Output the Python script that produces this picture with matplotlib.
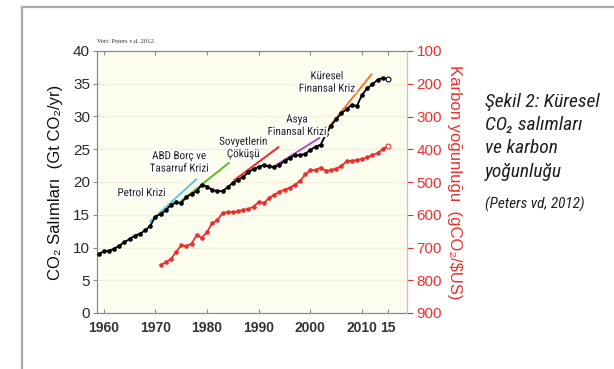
import matplotlib
matplotlib.use("Agg")
import matplotlib.pyplot as plt
import matplotlib.patheffects as pe
from matplotlib.lines import Line2D
import logging

logging.getLogger("matplotlib.font_manager").setLevel(logging.ERROR)

# Global fossil CO2 emissions (Gt CO2/yr), 1959-2014, plus 2015 projection
co2_years = list(range(1959, 2015))
co2_values = [9.0, 9.4, 9.5, 9.8, 10.3, 10.8, 11.3, 11.8, 12.1, 12.6,
              13.3, 14.7, 15.1, 15.7, 16.5, 16.9, 16.8, 17.7, 18.2, 18.6,
              19.6, 19.3, 18.8, 18.6, 18.6, 19.2, 19.9, 20.3, 20.8, 21.5,
              22.0, 22.3, 22.6, 22.4, 22.3, 22.6, 23.2, 23.7, 24.1, 24.1,
              24.3, 24.9, 25.4, 25.7, 27.3, 28.6, 29.6, 30.5, 31.1, 31.8,
              31.6, 33.3, 34.3, 34.9, 35.6, 35.9]
co2_proj_year = 2015
co2_proj_value = 35.7

# Carbon intensity (gCO2/$US), 1971-2014, plus 2015 projection
ci_years = list(range(1971, 2015))
ci_values = [753, 745, 735, 714, 693, 696, 688, 662, 671, 652,
             626, 616, 595, 592, 592, 590, 585, 583, 575, 561,
             564, 549, 539, 530, 523, 518, 508, 497, 477, 464,
             464, 456, 466, 464, 459, 451, 437, 435, 434, 430,
             425, 418, 412, 399]
ci_proj_year = 2015
ci_proj_value = 390

# Crisis trend segments
crisis_names = ["Petrol Krizi", "ABD Borç ve\nTasarruf Krizi", "Sovyetlerin\nÇöküşü",
                "Asya\nFinansal Krizi", "Küresel\nFinansal Kriz"]
crisis_colors = ["#5bc8e8", "#5cb82e", "#e8262a", "#b04fc8", "#f07a2a"]
crisis_x0 = [1969.0, 1975.0, 1985.3, 1993.0, 2003.6]
crisis_y0 = [14.0, 17.1, 20.3, 22.4, 28.4]
crisis_x1 = [1977.9, 1984.2, 1993.8, 2001.7, 2011.8]
crisis_y1 = [20.4, 22.9, 25.3, 26.7, 36.4]
crisis_label_x = [1967.3, 1974.6, 1987.0, 1997.4, 2003.2]
crisis_label_y = [18.3, 23.0, 25.2, 28.6, 35.2]

x_ticks = [1960, 1970, 1980, 1990, 2000, 2010, 2015]
x_tick_labels = ["1960", "1970", "1980", "1990", "2000", "2010", "15"]
left_ticks = [0, 5, 10, 15, 20, 25, 30, 35, 40]
right_ticks = [100, 200, 300, 400, 500, 600, 700, 800, 900]

sans = ["Liberation Sans", "DejaVu Sans"]
narrow = ["Roboto Condensed", "IBM Plex Sans Condensed", "Fira Sans Condensed",
          "Liberation Sans Narrow", "DejaVu Sans"]
plt.rcParams["font.family"] = sans
red = "#e8312f"
axis_grey = "#8a8a8a"

fig = plt.figure(figsize=(6.14, 3.69), dpi=100)
fig.patch.set_facecolor("white")

# page frame lines (top and left)
fig.add_artist(Line2D([22 / 614, 1.0], [1 - 7 / 369, 1 - 7 / 369],
                      color="#a9a9a9", lw=1.6, transform=fig.transFigure))
fig.add_artist(Line2D([22 / 614, 22 / 614], [0.0, 1 - 7 / 369],
                      color="#a9a9a9", lw=1.6, transform=fig.transFigure))

ax = fig.add_axes([97 / 614, 1 - 313 / 369, (407 - 97) / 614, (313 - 51) / 369])
ax.set_facecolor("#fcfcef")
ax.set_xlim(1958.7, 2018.7)
ax.set_ylim(0, 40)
ax.set_yticks(left_ticks)
ax.set_xticks(x_ticks)
ax.set_xticklabels(x_tick_labels)
for y in left_ticks[1:-1]:
    ax.axhline(y, color="#f0efd8", lw=0.8, zorder=0)

for side in ["left", "bottom", "top"]:
    ax.spines[side].set_color(axis_grey)
    ax.spines[side].set_linewidth(0.9)
ax.spines["right"].set_color("#eab3b3")
ax.tick_params(axis="y", labelsize=11, length=3, width=0.8,
               direction="out", pad=2, color=axis_grey, labelcolor="#2a2a2a")
ax.tick_params(axis="x", labelsize=10, length=3, width=0.8, direction="in",
               top=True, color=axis_grey, labelcolor="#333333", pad=6)
for lbl in ax.get_xticklabels():
    lbl.set_fontweight("bold")

ax.set_ylabel("CO₂ Salımları  (Gt CO₂/yr)", fontsize=12, color="#111111",
              labelpad=7)

# crisis trend lines
for x0, y0, x1, y1, c in zip(crisis_x0, crisis_y0, crisis_x1, crisis_y1, crisis_colors):
    ax.plot([x0, x1], [y0, y1], color=c, lw=1.4, zorder=3)

# emissions series
ax.plot(co2_years + [co2_proj_year], co2_values + [co2_proj_value],
        color="black", lw=1.3, zorder=4)
ax.plot(co2_years, co2_values, "o", color="black", ms=2.3, zorder=5)
ax.plot([co2_proj_year], [co2_proj_value], "o", mfc="white", mec="black",
        ms=3.5, mew=0.8, zorder=6)

halo = [pe.withStroke(linewidth=3, foreground="white")]
for name, lx, ly in zip(crisis_names, crisis_label_x, crisis_label_y):
    ax.text(lx, ly, name, ha="center", va="center", fontsize=8,
            family=narrow, color="#222222", linespacing=1.3,
            path_effects=halo, zorder=7)

ax.text(0.0, 1.025, "Veri: Peters v.d. 2012", transform=ax.transAxes,
        fontsize=4.8, family=["Liberation Serif", "DejaVu Serif"],
        color="#333333", ha="left", va="bottom")

# carbon intensity on an inverted secondary axis
ax2 = ax.twinx()
ax2.set_ylim(900, 100)
ax2.set_yticks(right_ticks)
for side in ["left", "bottom", "top"]:
    ax2.spines[side].set_visible(False)
ax2.spines["right"].set_color("#eab3b3")
ax2.tick_params(axis="y", colors=red, labelsize=11, length=4, width=0.8, pad=3)
ax2.plot(ci_years + [ci_proj_year], ci_values + [ci_proj_value],
         color=red, lw=1.3, zorder=4)
ax2.plot(ci_years, ci_values, "o", color=red, ms=2.3, zorder=5)
ax2.plot([ci_proj_year], [ci_proj_value], "o", mfc="white", mec=red,
         ms=3.5, mew=0.8, zorder=6)
ax2.set_ylabel("Karbon yoğunluğu  (gCO₂/$US)", fontsize=12, color=red,
               rotation=270, labelpad=14)

# figure caption
caption_lines = ["Şekil 2: Küresel", "CO₂ salımları", "ve karbon", "yoğunluğu"]
cap_y = [102, 125, 148, 172]
for line, yy in zip(caption_lines, cap_y):
    fig.text(485 / 614, 1 - yy / 369, line, fontsize=14, style="italic",
             family=narrow, color="#1e1e1e", ha="left", va="center")
fig.text(485 / 614, 1 - 204 / 369, "(Peters vd, 2012)", fontsize=11,
         style="italic", family=narrow, color="#1e1e1e", ha="left", va="center")

fig.savefig("out.png", dpi=100, facecolor="white")
